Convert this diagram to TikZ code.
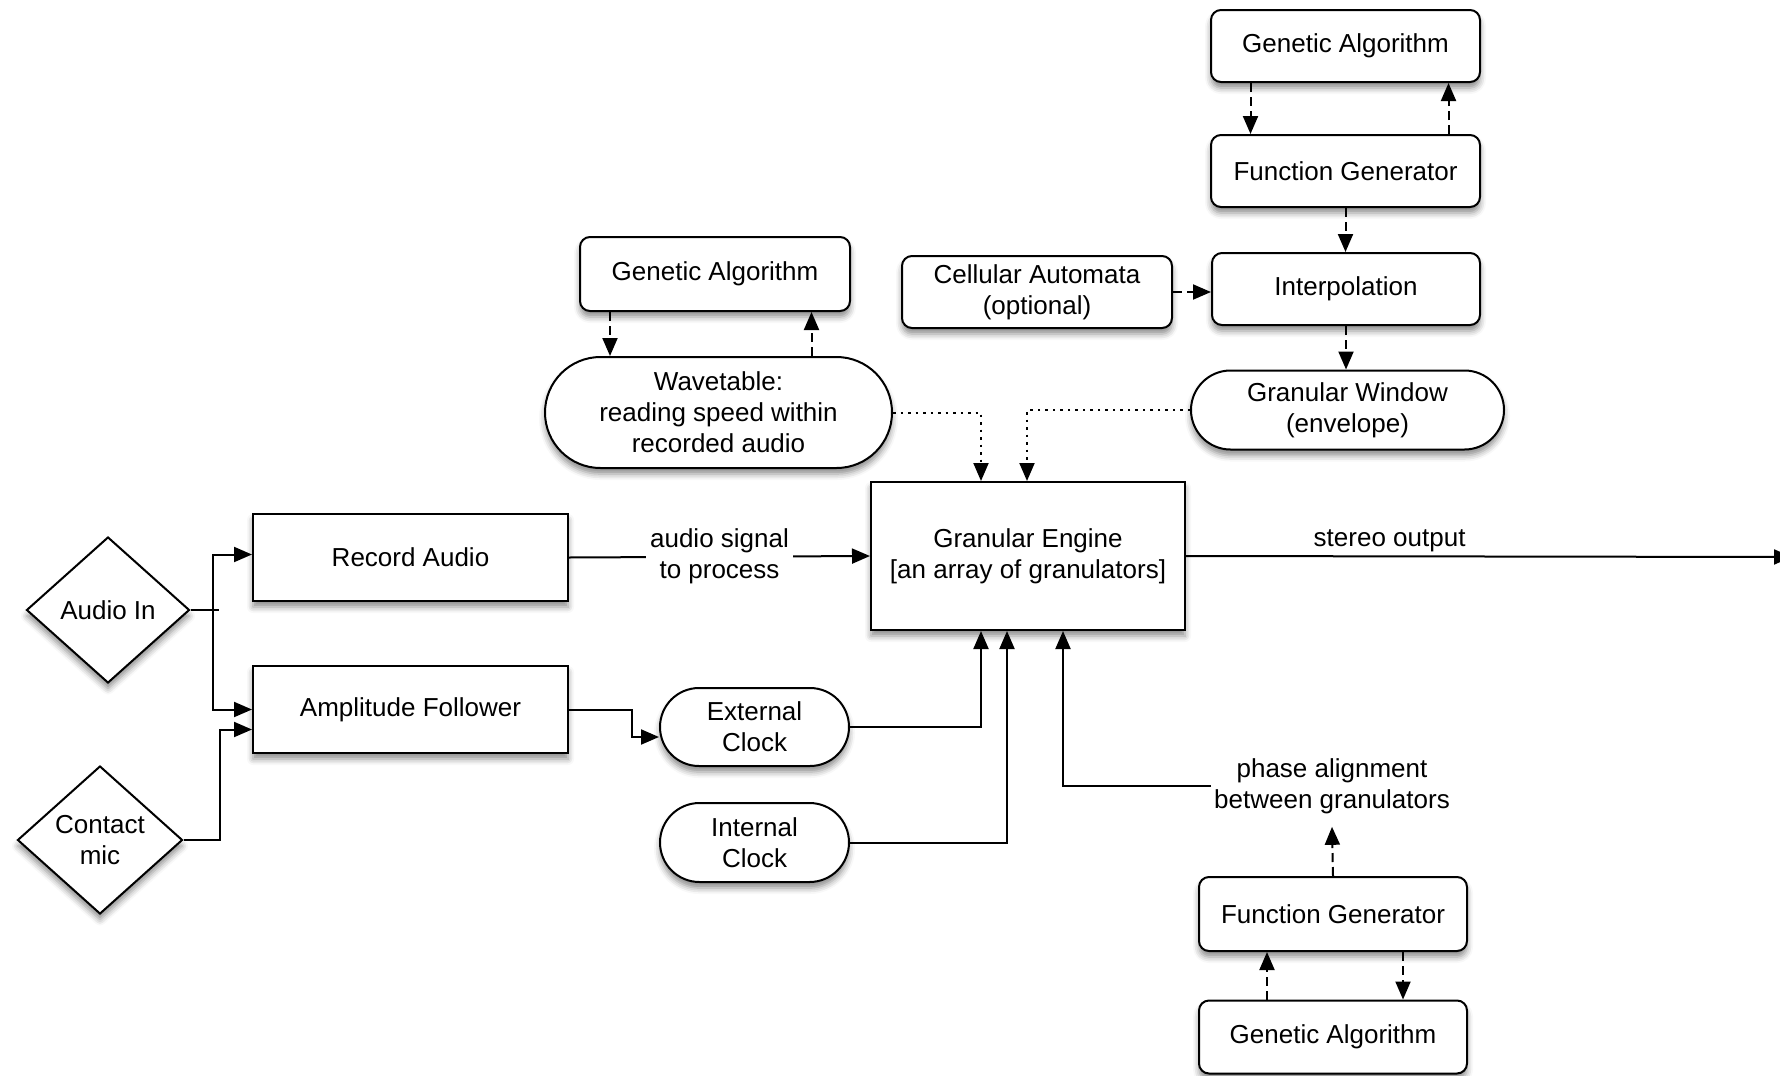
\documentclass[tikz,border=0pt]{standalone}
\usepackage{fontspec}
\setmainfont{Liberation Sans}
\usetikzlibrary{shapes.geometric,shapes.misc,arrows.meta,shadows.blur,calc}
\begin{document}
\begin{tikzpicture}[x=1pt,y=-1pt,
  font=\fontsize{26}{31}\selectfont,
  base/.style={draw=black,line width=2pt,fill=white,align=center,inner sep=0pt,
     blur shadow={shadow xshift=0pt,shadow yshift=-6pt,shadow blur radius=6pt,shadow opacity=45}},
  rbox/.style={base,rectangle,rounded corners=10pt},
  sbox/.style={base,rectangle},
  pill/.style={base,rounded rectangle},
  dia/.style={base,diamond},
  conn/.style={line width=2pt},
  arr/.style={conn,-{Triangle[length=18pt,width=15pt]}},
  dsh/.style={arr,dash pattern=on 9pt off 5pt},
  dot/.style={arr,dash pattern=on 2.5pt off 5pt},
]
\useasboundingbox (0,0) rectangle (1780,1076);

% nodes
\node[rbox,minimum width=269pt,minimum height=72pt] (ga1) at (1345.5,46) {Genetic Algorithm};
\node[rbox,minimum width=269pt,minimum height=72pt] (fg1) at (1345.5,171) {Function Generator};
\node[rbox,minimum width=268pt,minimum height=72pt] (interp) at (1346,289) {Interpolation};
\node[rbox,minimum width=270pt,minimum height=72pt] (ca) at (1037,292) {Cellular Automata\\(optional)};
\node[pill,minimum width=313pt,minimum height=79pt] (gw) at (1347.5,410) {Granular Window\\(envelope)};
\node[rbox,minimum width=270pt,minimum height=74pt] (ga2) at (715,274) {Genetic Algorithm};
\node[pill,minimum width=347pt,minimum height=111pt] (wt) at (718.5,412.5) {Wavetable:\\reading speed within\\recorded audio};
\node[sbox,minimum width=314pt,minimum height=148pt] (eng) at (1028,556) {Granular Engine\\{[an array of granulators]}};
\node[sbox,minimum width=315pt,minimum height=87pt] (rec) at (410.5,557.5) {Record Audio};
\node[sbox,minimum width=315pt,minimum height=87pt] (amp) at (410.5,709.5) {Amplitude Follower};
\node[pill,minimum width=189pt,minimum height=78pt] (ext) at (754.5,727) {External\\Clock};
\node[pill,minimum width=189pt,minimum height=79pt] (int) at (754.5,842.5) {Internal\\Clock};
\node[dia,minimum width=163pt,minimum height=146pt] (ain) at (108,610) {Audio In};
\node[dia,minimum width=165pt,minimum height=148pt] (cm) at (100,840) {Contact\\mic};
\node[rbox,minimum width=268pt,minimum height=74pt] (fg2) at (1333,914) {Function Generator};
\node[rbox,minimum width=268pt,minimum height=73pt] (ga3) at (1333,1037) {Genetic Algorithm};
\node[align=center,inner sep=3pt] (phase) at (1332,786) {phase alignment\\between granulators};
\coordinate (out) at (1792,557);

% top chain
\draw[dsh] ([xshift=-95pt]ga1.south) -- ([xshift=-95pt]ga1.south |- fg1.north);
\draw[dsh] ([xshift=103pt]fg1.north) -- ([xshift=103pt]fg1.north |- ga1.south);
\draw[dsh] (fg1.south) -- (fg1.south |- interp.north);
\draw[dsh] (ca.east) -- (ca.east -| interp.west);
\draw[dsh] (interp.south) -- (interp.south |- gw.north);

% middle genetic algorithm
\draw[dsh] ([xshift=-105pt]ga2.south) -- ([xshift=-105pt]ga2.south |- wt.north);
\draw[dsh] ([xshift=93pt]wt.north) -- ([xshift=93pt]wt.north |- ga2.south);

% dotted into engine
\draw[dot] (wt.east) -| ([xshift=-47pt]eng.north);
\draw[dot] (gw.west) -| ([xshift=-1pt]eng.north);

% inputs
\coordinate (j1) at (213,610);
\draw[conn] (ain.east) -- ++(28,0);
\draw[arr] (j1) |- ([yshift=3pt]rec.west);
\draw[arr] (j1) |- (amp.west);
\draw[arr] (cm.east) -- ++(36,0) |- ([yshift=-20pt]amp.west);

\draw[arr] (rec.east) -- node[fill=white,align=center,inner sep=4pt] {audio signal\\to process} (eng.west);
\draw[arr] (eng.east) -- node[pos=0.336,anchor=south,inner sep=3pt] {stereo output} (out);

\draw[arr] (amp.east) -- ++(63,0) |- ([yshift=-10pt]ext.west);
\draw[arr] (ext.east) -| ([xshift=-47pt]eng.south);
\draw[arr] (int.east) -| ([xshift=-21pt]eng.south);
\draw[arr] (phase.west) -| ([xshift=35pt]eng.south);

% bottom chain
\draw[dsh] (fg2.north) -- ([yshift=-10pt]phase.south);
\draw[dsh] ([xshift=-66pt]ga3.north) -- ([xshift=-66pt]ga3.north |- fg2.south);
\draw[dsh] ([xshift=70pt]fg2.south) -- ([xshift=70pt]fg2.south |- ga3.north);
\end{tikzpicture}
\end{document}
